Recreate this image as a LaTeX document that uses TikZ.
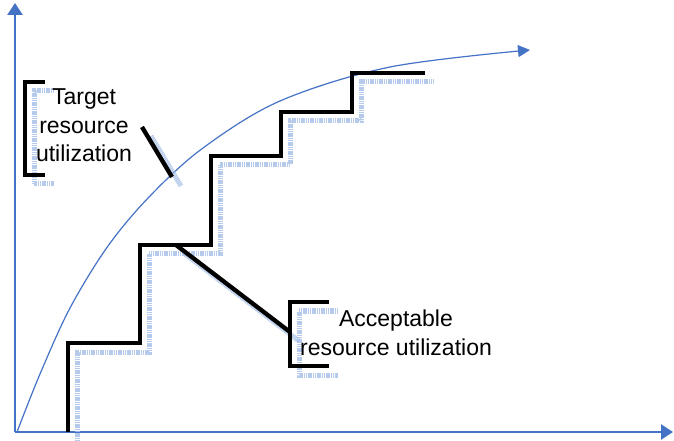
\documentclass[tikz,border=0pt]{standalone}
\usepackage{fontspec}
\setmainfont{Liberation Sans}
\usetikzlibrary{arrows.meta}
\definecolor{axisblue}{HTML}{4472C4}
\definecolor{shadowblue}{HTML}{A9C1E8}
\tikzset{
  axisline/.style={draw=axisblue, line width=2.4bp, -{Triangle[length=12bp,width=15bp]}},
  curveline/.style={draw=axisblue, line width=1.2bp, -{Triangle[length=12bp,width=12bp]}},
  stairline/.style={draw=black, line width=4.3bp},
  shadowline/.style={draw=shadowblue, line width=5bp, dash pattern=on 1.2bp off 0.6bp, opacity=0.85},
  label/.style={font=\fontsize{23bp}{28.5bp}\selectfont, align=center, inner sep=0pt, anchor=base},
}
\begin{document}
\begin{tikzpicture}[x=1bp, y=-1bp]
\useasboundingbox (0,0) rectangle (674,441);

% axes
\coordinate (O) at (15,432);
\coordinate (ytop) at (15,3);
\coordinate (xend) at (673,432);
\draw[axisline] (O) -- (ytop);
\draw[axisline] (O) -- (xend);

% target curve
\draw[curveline] plot[smooth, tension=0.55] coordinates {
  (17,432) (40,374) (70,308) (108,246) (150,196) (203,148)
  (280,101) (390,67) (530,50)};

% shadow copies of the black strokes
\begin{scope}[shift={(9,9)}]
  \draw[shadowline] (68,432) -- (68,343) -- (140,343) -- (140,245) -- (211,245)
    -- (211,156) -- (281,156) -- (281,112) -- (352,112) -- (352,73) -- (425,73);
  \draw[shadowline] (45,82) -- (25,82) -- (25,175) -- (45,175);
  \draw[shadowline] (142,127) -- (172,177);
  \draw[shadowline] (176,245) -- (290,332);
  \draw[shadowline] (329,302) -- (290,302) -- (290,366) -- (329,366);
\end{scope}

% staircase of acceptable utilization
\draw[stairline] (68,432) -- (68,343) -- (140,343) -- (140,245) -- (211,245)
  -- (211,156) -- (281,156) -- (281,112) -- (352,112) -- (352,73) -- (425,73);

% callout: target
\coordinate (tA) at (142,127);
\coordinate (tB) at (172,177);
\draw[stairline] (45,82) -- (25,82) -- (25,175) -- (45,175);
\draw[stairline] (tA) -- (tB);
\node[label] (target) at (84,162) {Target\\resource\\utilization};

% callout: acceptable
\coordinate (aA) at (176,245);
\coordinate (aB) at (290,332);
\draw[stairline] (aA) -- (aB);
\draw[stairline] (329,302) -- (290,302) -- (290,366) -- (329,366);
\node[label] (accept) at (396,355) {Acceptable\\resource utilization};
\end{tikzpicture}
\end{document}
